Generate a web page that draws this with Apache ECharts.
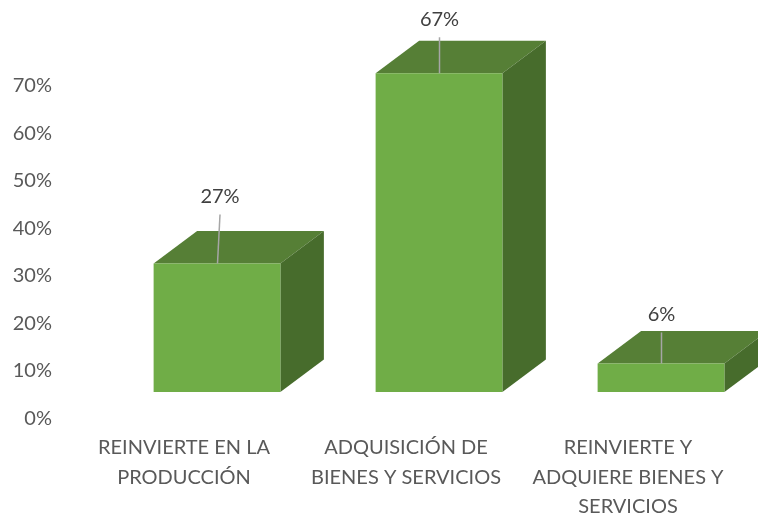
<!DOCTYPE html>
<html>
<head>
<meta charset="utf-8">
<style>html,body{margin:0;padding:0;background:#fff}#c{width:758px;height:514px}</style>
<script src="https://cdn.jsdelivr.net/npm/echarts@6/dist/echarts.min.js"></script>
</head>
<body>
<div id="c"></div>
<script>
const categories = ['REINVIERTE EN LA\nPRODUCCIÓN', 'ADQUISICIÓN DE\nBIENES Y SERVICIOS', 'REINVIERTE Y\nADQUIERE BIENES Y\nSERVICIOS'];
const values = [27, 67, 6];
const yTicks = [0, 10, 20, 30, 40, 50, 60, 70];

const FONT = 'Lato';
const TEXT = '#595959';
const FRONT = '#70AD47', TOP = '#567F36', SIDE = '#476C2C';
const DX = 43.5, DY = 32.5, LIFT = 26.5, SHIFT = 33;
const leaderLen = [49, 36, 31], leaderTilt = [2.5, 0, 0];

const chart = echarts.init(document.getElementById('c'));
chart.setOption({
  animation: false,
  backgroundColor: '#fff',
  grid: { left: 73, right: 19, top: 85.5, bottom: 95.5, outerBoundsMode: 'none' },
  xAxis: {
    type: 'category', data: categories,
    axisLine: { show: false }, axisTick: { show: false },
    axisLabel: { color: TEXT, fontFamily: FONT, fontSize: 20, lineHeight: 29.5, margin: 14.5, interval: 0, hideOverlap: false }
  },
  yAxis: {
    type: 'value', min: yTicks[0], max: yTicks[yTicks.length - 1], interval: 10,
    splitLine: { show: false }, axisLine: { show: false }, axisTick: { show: false },
    axisLabel: { color: TEXT, fontFamily: FONT, fontSize: 20, margin: 21, formatter: '{value}%' }
  },
  series: [{
    type: 'custom',
    clip: false,
    data: values.map((v, i) => [i, v]),
    encode: { x: 0, y: 1 },
    renderItem(params, api) {
      const i = params.dataIndex;
      const w = api.size([1, 0])[0] * 0.571;
      const cx = api.coord([api.value(0), 0])[0] + SHIFT;
      const base = api.coord([api.value(0), 0])[1] - LIFT;
      const top = api.coord([api.value(0), api.value(1)])[1] - LIFT;
      const l = cx - w / 2, r = cx + w / 2;
      const lineTop = top - leaderLen[i];
      const lineX = cx + 0.5 + leaderTilt[i];
      return {
        type: 'group',
        children: [
          { type: 'polygon', shape: { points: [[l, top], [r, top], [r + DX, top - DY], [l + DX, top - DY]] }, style: { fill: TOP } },
          { type: 'polygon', shape: { points: [[r, top], [r + DX, top - DY], [r + DX, base - DY], [r, base]] }, style: { fill: SIDE } },
          { type: 'rect', shape: { x: l, y: top, width: w, height: base - top }, style: { fill: FRONT } },
          { type: 'line', shape: { x1: cx + 0.5, y1: top, x2: lineX, y2: lineTop }, style: { stroke: '#a6a6a6', lineWidth: 1.5 } },
          { type: 'text', style: { text: api.value(1) + '%', x: lineX, y: lineTop - 18, align: 'center', verticalAlign: 'middle', fill: '#404040', font: '20px ' + FONT } }
        ]
      };
    }
  }]
});
</script>
</body>
</html>
